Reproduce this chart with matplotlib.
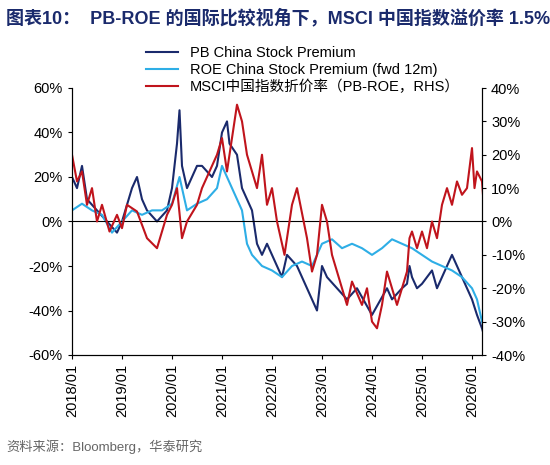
import matplotlib
matplotlib.use("Agg")
import matplotlib.pyplot as plt

plt.rcParams['font.family'] = ['Liberation Sans', 'Noto Sans CJK SC', 'DejaVu Sans']

pb_x = [2018.0,2018.1,2018.2,2018.3,2018.5,2018.7,2018.9,2019.0,2019.2,2019.3,2019.4,2019.5,2019.7,2019.9,2020.0,2020.1,2020.15,2020.2,2020.3,2020.4,2020.5,2020.6,2020.8,2020.9,2021.0,2021.1,2021.15,2021.3,2021.4,2021.5,2021.6,2021.7,2021.8,2021.9,2022.0,2022.1,2022.2,2022.3,2022.5,2022.7,2022.8,2022.9,2023.0,2023.1,2023.3,2023.5,2023.7,2023.9,2024.0,2024.1,2024.3,2024.4,2024.6,2024.7,2024.75,2024.8,2024.9,2025.0,2025.2,2025.3,2025.5,2025.6,2025.7,2025.9,2026.0,2026.1,2026.2,2026.25]
pb_y = [20,15,25,10,5,0,-5,0,15,20,10,5,0,5,15,35,50,25,15,20,25,25,20,25,40,45,35,30,15,10,5,-10,-15,-10,-15,-20,-25,-15,-20,-30,-35,-40,-20,-25,-30,-35,-30,-38,-42,-38,-30,-35,-30,-28,-20,-25,-30,-28,-22,-30,-20,-15,-20,-30,-35,-42,-48,-52]

roe_x = [2018.0,2018.2,2018.4,2018.6,2018.8,2019.0,2019.2,2019.4,2019.6,2019.8,2020.0,2020.15,2020.3,2020.5,2020.7,2020.9,2021.0,2021.2,2021.4,2021.5,2021.6,2021.8,2022.0,2022.2,2022.4,2022.6,2022.8,2023.0,2023.2,2023.4,2023.6,2023.8,2024.0,2024.2,2024.4,2024.6,2024.8,2025.0,2025.2,2025.4,2025.6,2025.8,2026.0,2026.1,2026.2,2026.25]
roe_y = [5,8,5,3,-5,0,5,3,5,5,8,20,5,8,10,15,25,15,5,-10,-15,-20,-22,-25,-20,-18,-20,-10,-8,-12,-10,-12,-15,-12,-8,-10,-12,-15,-18,-20,-22,-25,-30,-35,-45,-48]

msci_x = [2018.0,2018.1,2018.2,2018.3,2018.4,2018.5,2018.6,2018.75,2018.9,2019.0,2019.1,2019.3,2019.5,2019.7,2019.9,2020.0,2020.1,2020.2,2020.3,2020.5,2020.6,2020.75,2020.9,2021.0,2021.1,2021.3,2021.4,2021.5,2021.6,2021.7,2021.8,2021.9,2022.0,2022.1,2022.25,2022.4,2022.5,2022.7,2022.8,2022.9,2023.0,2023.1,2023.2,2023.4,2023.5,2023.6,2023.8,2023.9,2024.0,2024.1,2024.2,2024.3,2024.4,2024.5,2024.6,2024.7,2024.75,2024.8,2024.9,2025.0,2025.1,2025.2,2025.3,2025.4,2025.5,2025.6,2025.7,2025.8,2025.9,2026.0,2026.05,2026.1,2026.2,2026.25]
msci_y = [20,12,15,5,10,0,5,-3,2,-2,5,3,-5,-8,2,5,10,-5,0,5,10,15,20,25,15,35,30,20,15,10,20,5,10,0,-10,5,10,-5,-15,-10,5,0,-10,-20,-25,-18,-25,-20,-30,-32,-25,-15,-20,-25,-20,-15,-5,-3,-8,-3,-8,0,-5,5,10,5,12,8,10,22,10,15,12,2]

years = list(range(2018, 2027))
year_labels = [f"{y}/01" for y in years]

fig = plt.figure(figsize=(5.5, 4.65), dpi=100)
ax = fig.add_axes([72/550, 1-355/465, (482-72)/550, (355-88)/465])
ax2 = ax.twinx()

l1, = ax.plot(pb_x, [v/100 for v in pb_y], color='#1a2a6c', lw=1.5, label='PB China Stock Premium')
l2, = ax.plot(roe_x, [v/100 for v in roe_y], color='#2eaee6', lw=1.5, label='ROE China Stock Premium (fwd 12m)')
l3, = ax2.plot(msci_x, [v/100 for v in msci_y], color='#c0141c', lw=1.5, label='MSCI中国指数折价率（PB-ROE，RHS）')

ax.set_ylim(-0.6, 0.6)
ax2.set_ylim(-0.4, 0.4)
ax.set_yticks([-0.6,-0.4,-0.2,0,0.2,0.4,0.6])
ax.set_yticklabels([f"{int(round(v*100))}%" for v in ax.get_yticks()])
ax2.set_yticks([-0.4,-0.3,-0.2,-0.1,0,0.1,0.2,0.3,0.4])
ax2.set_yticklabels([f"{int(round(v*100))}%" for v in ax2.get_yticks()])
ax.set_xlim(2018.0, 2026.2)
ax.set_xticks(years)
ax.set_xticklabels(year_labels, rotation=90)
ax.axhline(0, color='black', lw=0.8)
for a in (ax, ax2):
    a.tick_params(labelsize=10.5, length=3)
    for s in a.spines.values():
        s.set_color('black')
ax.spines['top'].set_visible(False)
ax2.spines['top'].set_visible(False)

fig.legend(handles=[l1, l2, l3], loc='upper left', bbox_to_anchor=(140/550, 1-40/465),
           frameon=False, fontsize=10.5, handlelength=2.2, labelspacing=0.2, borderaxespad=0)

fig.text(6/550, 1-18/465, '图表10：  PB-ROE 的国际比较视角下，MSCI 中国指数溢价率 1.5%',
         fontsize=13, fontweight='bold', color='#1a2a6c', va='center')
fig.text(6/550, 1-447/465, '资料来源：Bloomberg，华泰研究', fontsize=9.5, color='#666666', va='center')

fig.savefig('out.png', dpi=100)
